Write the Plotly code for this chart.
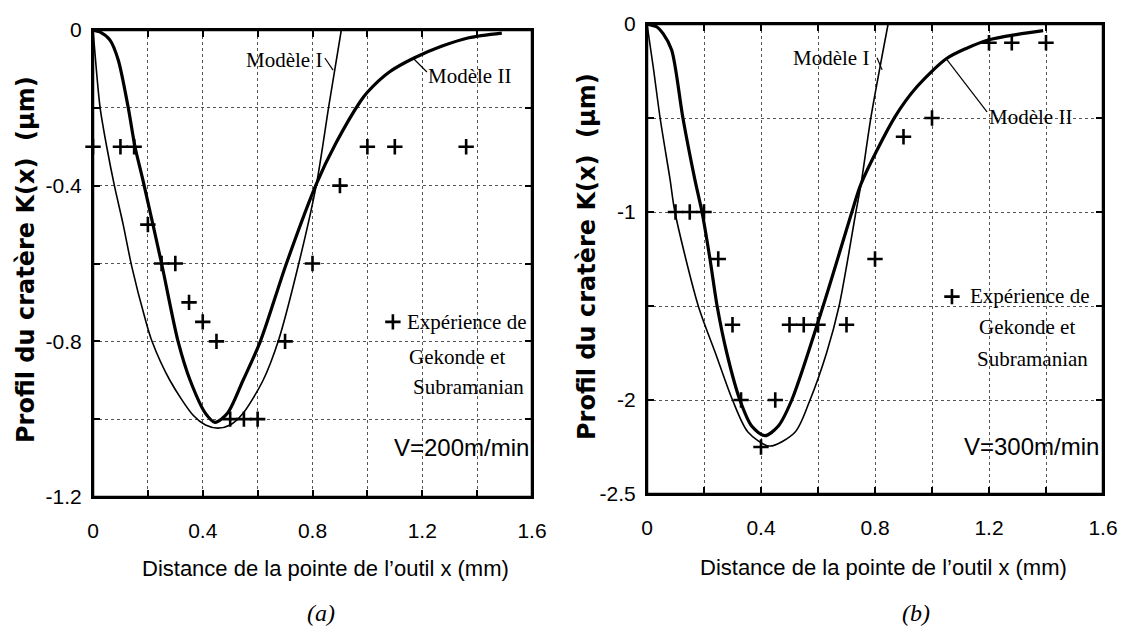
import plotly.graph_objects as go

# ---------------- data ----------------
# Panel (a): V = 200 m/min
exp_a_x = [0.0, 0.10, 0.15, 0.20, 0.25, 0.30, 0.35, 0.40, 0.45, 0.50, 0.55, 0.60, 0.70, 0.80, 0.90, 1.00, 1.10, 1.36]
exp_a_y = [-0.3, -0.3, -0.3, -0.5, -0.6, -0.6, -0.7, -0.75, -0.8, -1.0, -1.0, -1.0, -0.8, -0.6, -0.4, -0.3, -0.3, -0.3]

m1_a_x = [0.0, 0.012, 0.026, 0.05, 0.078, 0.11, 0.142, 0.19, 0.215, 0.28, 0.365, 0.41, 0.455, 0.50, 0.547, 0.62, 0.675, 0.75, 0.815, 0.86, 0.905]
m1_a_y = [0.0, -0.1, -0.2, -0.3, -0.4, -0.5, -0.61, -0.742, -0.8, -0.9, -0.99, -1.015, -1.023, -1.015, -0.985, -0.9, -0.8, -0.6, -0.394, -0.193, 0.0]

m2_a_x = [0.0, 0.025, 0.062, 0.092, 0.128, 0.153, 0.182, 0.25, 0.31, 0.354, 0.41, 0.445, 0.49, 0.547, 0.61, 0.705, 0.815, 0.886, 0.973, 1.0, 1.08, 1.17, 1.27, 1.37, 1.49]
m2_a_y = [0.0, -0.005, -0.026, -0.077, -0.198, -0.3, -0.386, -0.6, -0.8, -0.9, -0.985, -1.008, -0.985, -0.9, -0.8, -0.6, -0.394, -0.29, -0.185, -0.16, -0.108, -0.072, -0.042, -0.02, -0.008]

# Panel (b): V = 300 m/min
exp_b_x = [0.10, 0.15, 0.20, 0.25, 0.30, 0.33, 0.40, 0.45, 0.50, 0.55, 0.60, 0.70, 0.80, 0.90, 1.00, 1.20, 1.28, 1.40]
exp_b_y = [-1.0, -1.0, -1.0, -1.25, -1.6, -2.0, -2.25, -2.0, -1.6, -1.6, -1.6, -1.6, -1.25, -0.6, -0.5, -0.1, -0.1, -0.1]

m1_b_x = [0.0, 0.022, 0.046, 0.081, 0.098, 0.18, 0.24, 0.30, 0.354, 0.43, 0.52, 0.572, 0.63, 0.674, 0.733, 0.751, 0.786, 0.846]
m1_b_y = [0.0, -0.23, -0.5, -0.828, -1.0, -1.5, -1.75, -2.0, -2.17, -2.245, -2.17, -2.0, -1.75, -1.5, -1.0, -0.85, -0.494, 0.0]

m2_b_x = [0.0, 0.035, 0.056, 0.0865, 0.126, 0.168, 0.193, 0.221, 0.246, 0.28, 0.326, 0.368, 0.414, 0.46, 0.508, 0.618, 0.719, 0.751, 0.87, 0.947, 1.05, 1.12, 1.197, 1.30, 1.39]
m2_b_y = [0.0, -0.016, -0.05, -0.138, -0.5, -0.828, -1.0, -1.25, -1.5, -1.75, -2.0, -2.14, -2.19, -2.14, -2.0, -1.5, -1.0, -0.85, -0.494, -0.334, -0.185, -0.13, -0.085, -0.055, -0.035]

x_ticks = [0.0, 0.2, 0.4, 0.6, 0.8, 1.0, 1.2, 1.4, 1.6]
x_text = ["0", "", "0.4", "", "0.8", "", "1.2", "", "1.6"]
ya_ticks = [0.0, -0.2, -0.4, -0.6, -0.8, -1.0, -1.2]
ya_text = ["0", "", "-0.4", "", "-0.8", "", "-1.2"]
yb_ticks = [0.0, -0.5, -1.0, -1.5, -2.0, -2.5]
yb_text = ["0", "", "-1", "", "-2", "-2.5"]

# ---------------- styling ----------------
SANS = "Liberation Sans, Arial, sans-serif"
SERIF = "Liberation Serif, Times New Roman, serif"
TITLE = "DejaVu Sans, Verdana, sans-serif"
W, H = 1124, 632

fig = go.Figure()

def add_panel(xa, ya, ex, ey, m1x, m1y, m2x, m2y):
    fig.add_trace(go.Scatter(x=m1x, y=m1y, mode="lines", line=dict(color="black", width=1.6, shape="spline", smoothing=0.8),
                             xaxis=xa, yaxis=ya, showlegend=False, hoverinfo="skip"))
    fig.add_trace(go.Scatter(x=m2x, y=m2y, mode="lines", line=dict(color="black", width=3.2, shape="spline", smoothing=0.8),
                             xaxis=xa, yaxis=ya, showlegend=False, hoverinfo="skip"))
    fig.add_trace(go.Scatter(x=ex, y=ey, mode="markers",
                             marker=dict(symbol="cross-thin", size=11, line=dict(color="black", width=2.6)),
                             xaxis=xa, yaxis=ya, showlegend=False, cliponaxis=False, hoverinfo="skip"))

add_panel("x", "y", exp_a_x, exp_a_y, m1_a_x, m1_a_y, m2_a_x, m2_a_y)
add_panel("x2", "y2", exp_b_x, exp_b_y, m1_b_x, m1_b_y, m2_b_x, m2_b_y)

# legend keys (cross symbol) inside each panel
fig.add_trace(go.Scatter(x=[1.093], y=[-0.75], mode="markers", xaxis="x", yaxis="y", showlegend=False, hoverinfo="skip",
                         marker=dict(symbol="cross-thin", size=11, line=dict(color="black", width=2.6))))
fig.add_trace(go.Scatter(x=[1.07], y=[-1.45], mode="markers", xaxis="x2", yaxis="y2", showlegend=False, hoverinfo="skip",
                         marker=dict(symbol="cross-thin", size=11, line=dict(color="black", width=2.6))))

axis_common = dict(showline=True, linewidth=2, linecolor="black", mirror="ticks",
                   ticks="inside", ticklen=7, tickwidth=2, tickcolor="black",
                   showgrid=True, gridcolor="#555", gridwidth=1, griddash="dot",
                   zeroline=False, automargin=False,
                   tickfont=dict(family=SANS, size=21, color="black"))

fig.update_layout(
    width=W, height=H, margin=dict(l=0, r=0, t=0, b=0, pad=0, autoexpand=False),
    paper_bgcolor="white", plot_bgcolor="white", showlegend=False,
    xaxis=dict(domain=[93 / W, 532 / W], range=[0, 1.6], tickvals=x_ticks, ticktext=x_text,
               anchor="y", ticklabelstandoff=14, **axis_common),
    yaxis=dict(domain=[1 - 497 / H, 1 - 30 / H], range=[-1.2, 0], tickvals=ya_ticks, ticktext=ya_text,
               anchor="x", ticklabelstandoff=5, **axis_common),
    xaxis2=dict(domain=[647 / W, 1103 / W], range=[0, 1.6], tickvals=x_ticks, ticktext=x_text,
                anchor="y2", ticklabelstandoff=14, **axis_common),
    yaxis2=dict(domain=[1 - 494 / H, 1 - 24 / H], range=[-2.5, 0], tickvals=yb_ticks, ticktext=yb_text,
                anchor="x2", ticklabelstandoff=5, **axis_common),
)

# plot frames
for xr, yr in (("x", "y"), ("x2", "y2")):
    fig.add_shape(type="rect", xref=xr + " domain", yref=yr + " domain", x0=0, x1=1, y0=0, y1=1,
                  line=dict(color="black", width=2.5), layer="above")

# leader lines for model labels
leaders = [
    ("x", "y", 0.845, -0.072, 0.875, -0.103),
    ("x", "y", 1.166, -0.072, 1.217, -0.108),
    ("x2", "y2", 0.807, -0.18, 0.825, -0.244),
    ("x2", "y2", 1.053, -0.191, 1.193, -0.467),
]
for xr, yr, x0, y0, x1, y1 in leaders:
    fig.add_shape(type="line", xref=xr, yref=yr, x0=x0, y0=y0, x1=x1, y1=y1,
                  line=dict(color="black", width=1.2))

def ann(text, x, y, xr, yr, size=21, family=SERIF, xanchor="center", **kw):
    fig.add_annotation(text=text, x=x, y=y, xref=xr, yref=yr, showarrow=False,
                       xanchor=xanchor, yanchor="middle", bgcolor="rgba(0,0,0,0)",
                       font=dict(family=family, size=size, color="black", shadow="none"), **kw)

# Panel (a) texts
ann("Modèle I", 0.696, -0.077, "x", "y")
ann("Modèle II", 1.374, -0.118, "x", "y")
ann("Expérience de", 1.363, -0.751, "x", "y")
ann("Gekonde et", 1.327, -0.841, "x", "y")
ann("Subramanian", 1.367, -0.918, "x", "y")
ann("V=200m/min", 1.595, -1.072, "x", "y", size=24, family=SANS, xanchor="right")
# Panel (b) texts
ann("Modèle I", 0.646, -0.18, "x2", "y2")
ann("Modèle II", 1.347, -0.494, "x2", "y2")
ann("Expérience de", 1.344, -1.449, "x2", "y2")
ann("Gekonde et", 1.333, -1.614, "x2", "y2")
ann("Subramanian", 1.354, -1.783, "x2", "y2")
ann("V=300m/min", 1.592, -2.245, "x2", "y2", size=24, family=SANS, xanchor="right")

# axis titles
xt = "Distance de la pointe de l’outil x (mm)"
yt = "Profil du cratère K(x)  (µm)"
ann(xt, 325 / W, 1 - 568 / H, "paper", "paper", size=22, family=SANS)
ann(xt, 883 / W, 1 - 567 / H, "paper", "paper", size=22, family=SANS)
ann("<b>" + yt + "</b>", 26 / W, 1 - 260 / H, "paper", "paper", size=24, family=TITLE, textangle=-90)
ann("<b>" + yt + "</b>", 587 / W, 1 - 257 / H, "paper", "paper", size=24, family=TITLE, textangle=-90)

# sub-figure labels
ann("<i>(a)</i>", 321 / W, 1 - 613 / H, "paper", "paper", size=24)
ann("<i>(b)</i>", 916 / W, 1 - 613 / H, "paper", "paper", size=24)

fig.write_html("out.html", config={"displayModeBar": False},
               post_script="document.body.style.margin='0';document.body.style.overflow='hidden';")
